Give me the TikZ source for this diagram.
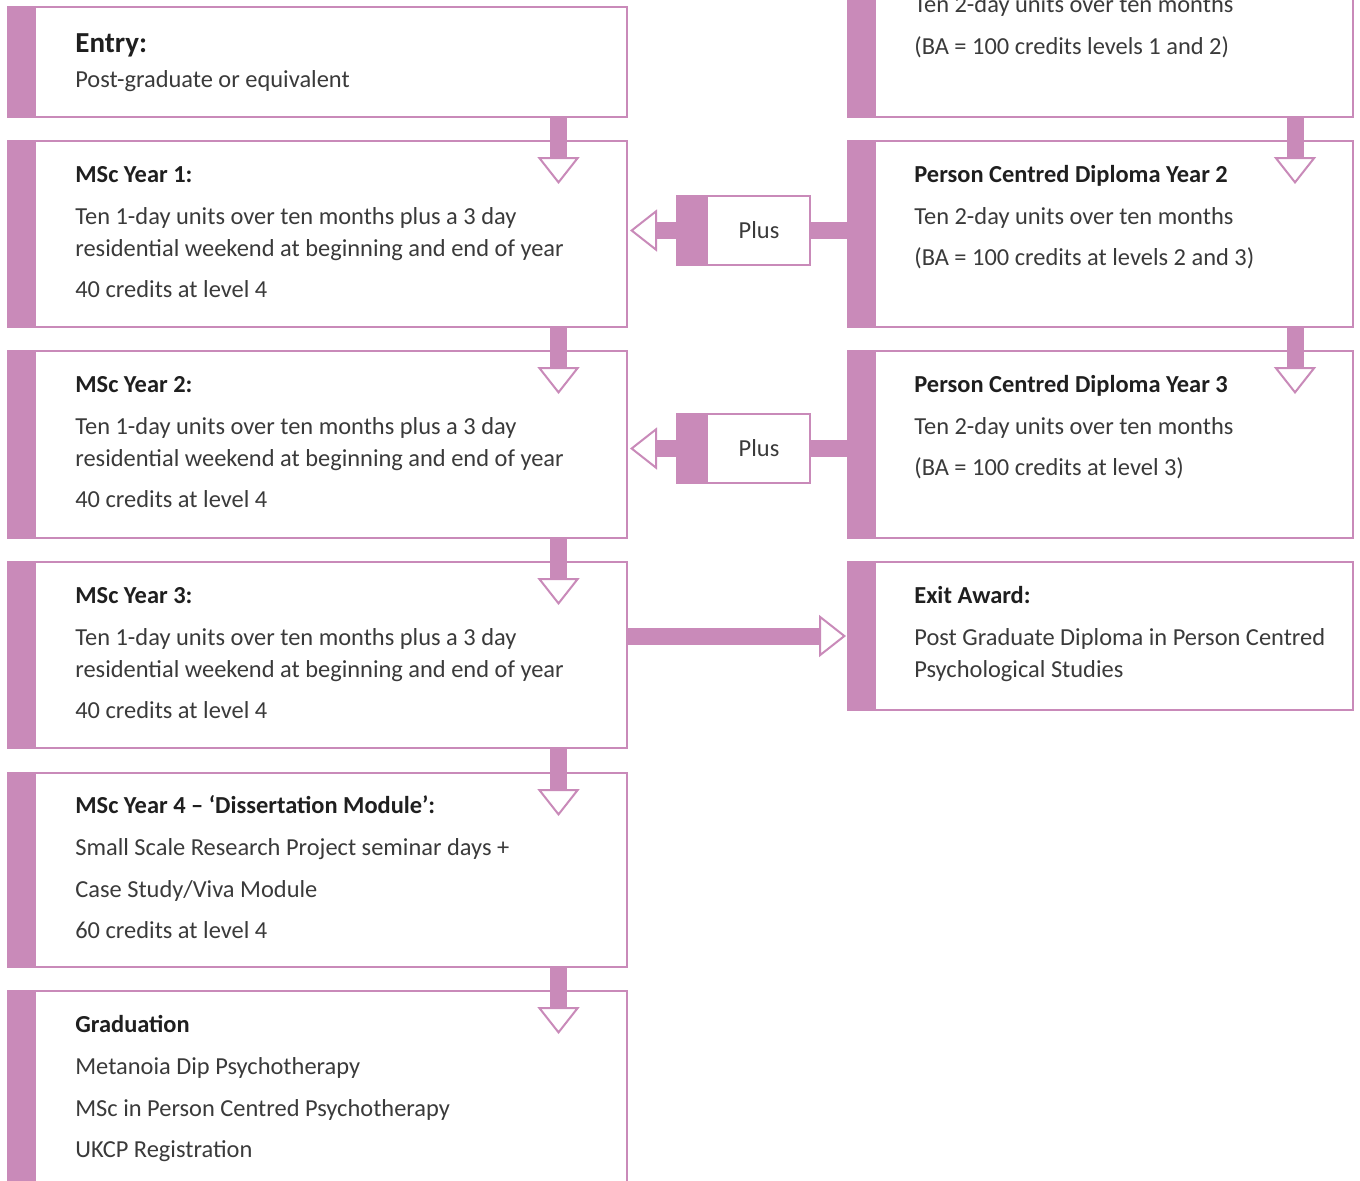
\documentclass[tikz,border=0pt]{standalone}
\usepackage{fontspec}
\setmainfont{Carlito}
\usepackage{tikz}
\usetikzlibrary{arrows.meta,positioning}
\definecolor{mauve}{HTML}{C98AB9}
\definecolor{ink}{HTML}{3A3A3A}
\newcommand{\hd}[1]{\textbf{\color{black!88}#1}}

\begin{document}
\begin{tikzpicture}[x=0.2mm, y=-0.2mm,
   bar/.style={path picture={\fill[mauve] (path picture bounding box.north west)
      rectangle ([xshift=#1]path picture bounding box.south west);}},
   box/.style={rectangle, draw=mauve, line width=0.4mm, fill=white, anchor=north west,
      inner sep=0pt, outer sep=0pt},
   txt/.style={anchor=base west, align=left, inner sep=0pt, text=ink,
      font=\fontsize{13.9pt}{6.4mm}\selectfont},
   link/.style={draw=mauve, line width=3.4mm},
   flow/.style={link, -{Triangle[fill=white, line width=0.4mm, length=5.4mm, width=8.4mm]}}]
   \clip (0,0) rectangle (1360,1180);
   % left column
   \begin{scope}[every node/.style={box, bar=5.6mm, minimum width=123.8mm}]
    \node (entry) [minimum height=22mm] at (8,7) {};
    \node (y1) [minimum height=37.2mm] at (8,141) {};
    \node (y2) [minimum height=37.4mm] at (8,351) {};
    \node (y3) [minimum height=37.2mm] at (8,562) {};
    \node (y4) [minimum height=38.8mm] at (8,773) {};
    \node (grad) [minimum height=44mm] at (8,991) {};
   \end{scope}
   % right column
   \begin{scope}[every node/.style={box, bar=5.6mm, minimum width=101mm}]
    \node (d1) [minimum height=43.4mm] at (848,-100) {};
    \node (d2) [minimum height=37.2mm] at (848,141) {};
    \node (d3) [minimum height=37.4mm] at (848,351) {};
    \node (exit) [minimum height=29.6mm] at (848,562) {};
   \end{scope}
   \begin{scope}[every node/.style={box, bar=6.2mm, minimum width=26.6mm, minimum height=13.8mm,
      text=ink, font=\fontsize{13.9pt}{15pt}\selectfont}]
    \node (p1) at (677,196) {\hspace*{6.2mm}Plus};
    \node (p2) at (677,414) {\hspace*{6.2mm}Plus};
   \end{scope}
   % arrows
   \draw[flow] ([xshift=-13.7mm]entry.south east) -- ([xshift=-13.7mm,yshift=-8.6mm]y1.north east);
   \draw[flow] ([xshift=-13.7mm]y1.south east) -- ([xshift=-13.7mm,yshift=-8.6mm]y2.north east);
   \draw[flow] ([xshift=-13.7mm]y2.south east) -- ([xshift=-13.7mm,yshift=-8.6mm]y3.north east);
   \draw[flow] ([xshift=-13.7mm]y3.south east) -- ([xshift=-13.7mm,yshift=-8.6mm]y4.north east);
   \draw[flow] ([xshift=-13.7mm]y4.south east) -- ([xshift=-13.7mm,yshift=-8.6mm]grad.north east);
   \draw[flow] ([xshift=-11.6mm]d1.south east) -- ([xshift=-11.6mm,yshift=-8.6mm]d2.north east);
   \draw[flow] ([xshift=-11.6mm]d2.south east) -- ([xshift=-11.6mm,yshift=-8.6mm]d3.north east);
   \draw[link] (d2.west |- p1.east) -- (p1.east);
   \draw[flow] (p1.west) -- ([xshift=0.6mm]y1.east |- p1.west);
   \draw[link] (d3.west |- p2.east) -- (p2.east);
   \draw[flow] (p2.west) -- ([xshift=0.6mm]y2.east |- p2.west);
   \draw[flow] (y3.east |- exit.west) -- ([xshift=-0.4mm]exit.west);
   % texts (placed at the baseline of their last line)
   \begin{scope}[every node/.style={txt}]
    \node (entry-t) at (75,87) {\hd{\fontsize{16.5pt}{7mm}\selectfont Entry:}\\[0.6mm]
      Post-graduate or equivalent};
    \node (y1-t) at (75,297) {\hd{MSc Year 1:}\\[2mm]
      Ten 1-day units over ten months plus a 3 day\\
      residential weekend at beginning and end of year\\[1.8mm]
      40 credits at level 4};
    \node (y2-t) at (75,507) {\hd{MSc Year 2:}\\[2mm]
      Ten 1-day units over ten months plus a 3 day\\
      residential weekend at beginning and end of year\\[1.8mm]
      40 credits at level 4};
    \node (y3-t) at (75,718) {\hd{MSc Year 3:}\\[2mm]
      Ten 1-day units over ten months plus a 3 day\\
      residential weekend at beginning and end of year\\[1.8mm]
      40 credits at level 4};
    \node (y4-t) at (75,938) {\hd{MSc Year 4 – ‘Dissertation Module’:}\\[2mm]
      Small Scale Research Project seminar days +\\[2mm]
      Case Study/Viva Module\\[1.8mm]
      60 credits at level 4};
    \node (grad-t) at (75,1157) {\hd{Graduation}\\[2mm]
      Metanoia Dip Psychotherapy\\[2mm]
      MSc in Person Centred Psychotherapy\\[1.8mm]
      UKCP Registration};
    \node (d1-t) at (914,54) {Ten 2-day units over ten months\\[2mm]
      (BA = 100 credits levels 1 and 2)};
    \node (d2-t) at (914,265) {\hd{Person Centred Diploma Year 2}\\[2mm]
      Ten 2-day units over ten months\\[1.8mm]
      (BA = 100 credits at levels 2 and 3)};
    \node (d3-t) at (914,475) {\hd{Person Centred Diploma Year 3}\\[2mm]
      Ten 2-day units over ten months\\[1.8mm]
      (BA = 100 credits at level 3)};
    \node (exit-t) at (914,677) {\hd{Exit Award:}\\[2mm]
      Post Graduate Diploma in Person Centred\\
      Psychological Studies};
   \end{scope}
\end{tikzpicture}
\end{document}
